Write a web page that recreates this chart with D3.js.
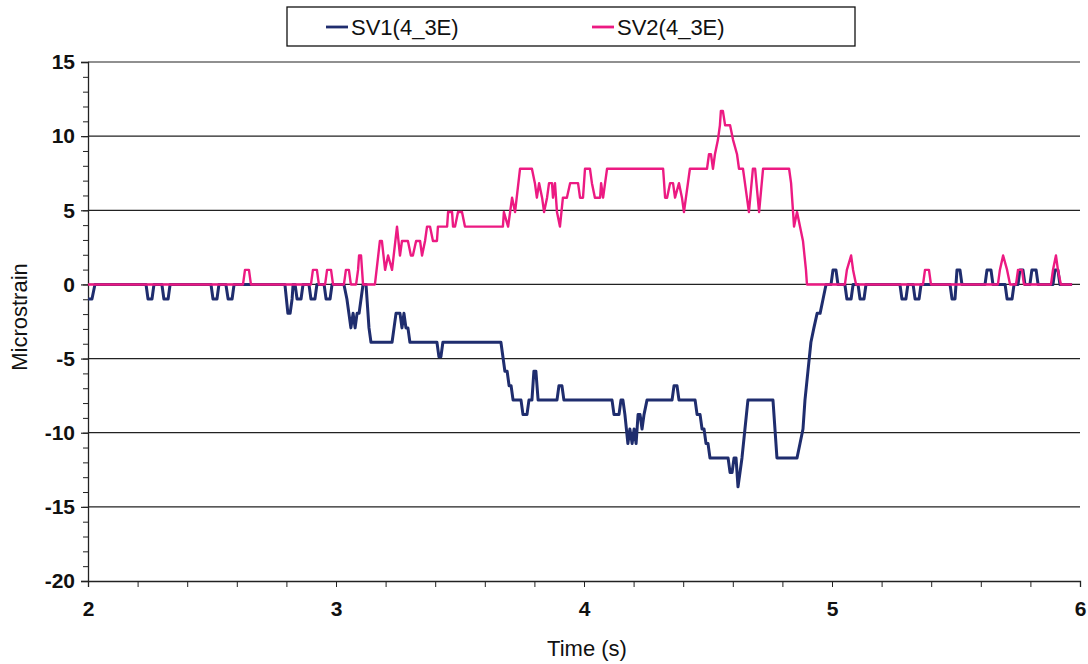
<!DOCTYPE html>
<html>
<head>
<meta charset="utf-8">
<script src="https://cdn.jsdelivr.net/npm/d3@7"></script>
<style>
  body { margin: 0; background: #fff; }
  svg text { font-family: "Liberation Sans", Arial, sans-serif; fill: #111; }
</style>
</head>
<body>
<svg id="chart" width="1088" height="664"></svg>
<script>
// series names / colours
var seriesNames = ["SV1(4_3E)", "SV2(4_3E)"];
var seriesColors = ["#1f2d6e", "#ec1a82"];

// axis ticks
var xTicks = [2, 3, 4, 5, 6];
var yTicks = [15, 10, 5, 0, -5, -10, -15, -20];

// SV1 breakpoints [time s, microstrain]
var sv1 = [
  [2.000, -0.98], [2.016, -0.98], [2.028, 0], [2.234, 0], [2.242, -0.98], [2.258, -0.98], [2.266, 0],
  [2.298, 0], [2.306, -0.98], [2.323, -0.98], [2.331, 0], [2.496, 0], [2.504, -0.98], [2.520, -0.98], [2.528, 0],
  [2.556, 0], [2.565, -0.98], [2.581, -0.98], [2.589, 0], [2.794, 0], [2.806, -1.95], [2.815, -1.95], [2.823, -0.98], [2.827, 0],
  [2.835, 0], [2.843, -0.98], [2.859, -0.98], [2.867, 0], [2.891, 0], [2.899, -0.98], [2.915, -0.98], [2.923, 0],
  [2.952, 0], [2.960, -0.98], [2.976, -0.98], [2.984, 0], [3.032, 0], [3.044, -0.98], [3.052, -1.95], [3.060, -2.93],
  [3.069, -1.95], [3.077, -2.93], [3.085, -1.95], [3.093, -1.95], [3.101, -0.98], [3.109, 0], [3.121, 0], [3.133, -2.93],
  [3.141, -3.9], [3.226, -3.9], [3.234, -2.93], [3.242, -1.95], [3.258, -1.95], [3.266, -2.93], [3.274, -1.95], [3.282, -2.93],
  [3.290, -2.93], [3.298, -3.9], [3.407, -3.9], [3.415, -4.88], [3.423, -4.88], [3.431, -3.9], [3.665, -3.9], [3.673, -4.88],
  [3.681, -5.85], [3.690, -5.85], [3.698, -6.83], [3.706, -6.83], [3.714, -7.8], [3.746, -7.8], [3.754, -8.78], [3.770, -8.78],
  [3.778, -7.8], [3.790, -7.8], [3.798, -5.85], [3.806, -5.85], [3.815, -7.8], [3.891, -7.8], [3.899, -6.83], [3.911, -6.83],
  [3.919, -7.8], [4.113, -7.8], [4.121, -8.78], [4.141, -8.78], [4.149, -7.8], [4.157, -7.8], [4.165, -8.78], [4.177, -10.73],
  [4.185, -9.75], [4.194, -10.73], [4.202, -9.75], [4.210, -10.73], [4.218, -8.78], [4.226, -8.78], [4.234, -9.75], [4.242, -8.78],
  [4.254, -7.8], [4.355, -7.8], [4.363, -6.83], [4.375, -6.83], [4.383, -7.8], [4.448, -7.8], [4.456, -8.78], [4.468, -8.78],
  [4.476, -9.75], [4.484, -9.75], [4.492, -10.73], [4.500, -10.73], [4.508, -11.7], [4.581, -11.7], [4.589, -12.68], [4.597, -12.68],
  [4.605, -11.7], [4.613, -11.7], [4.621, -13.65], [4.629, -12.68], [4.637, -11.7], [4.649, -9.75], [4.661, -7.8], [4.762, -7.8],
  [4.778, -11.7], [4.859, -11.7], [4.871, -10.73], [4.883, -9.75], [4.891, -7.8], [4.903, -5.85], [4.915, -3.9], [4.927, -2.93],
  [4.940, -1.95], [4.952, -1.95], [4.964, -0.98], [4.976, 0], [4.996, 0], [5.004, 0.98], [5.016, 0.98], [5.024, 0],
  [5.052, 0], [5.060, -0.98], [5.077, -0.98], [5.085, 0], [5.105, 0], [5.113, -0.98], [5.129, -0.98], [5.137, 0],
  [5.274, 0], [5.282, -0.98], [5.298, -0.98], [5.306, 0], [5.327, 0], [5.335, -0.98], [5.351, -0.98], [5.359, 0],
  [5.476, 0], [5.484, -0.98], [5.496, -0.98], [5.500, 0], [5.504, 0.98], [5.516, 0.98], [5.524, 0],
  [5.617, 0], [5.625, 0.98], [5.641, 0.98], [5.649, 0], [5.698, 0], [5.706, -0.98], [5.726, -0.98], [5.734, 0],
  [5.750, 0], [5.758, 0.98], [5.770, 0.98], [5.778, 0], [5.798, 0], [5.806, 0.98], [5.823, 0.98], [5.831, 0],
  [5.891, 0], [5.899, 0.98], [5.911, 0.98], [5.919, 0], [5.968, 0]
];

// SV2 breakpoints [time s, microstrain]
var sv2 = [
  [2.000, 0], [2.625, 0], [2.633, 0.98], [2.649, 0.98], [2.657, 0], [2.899, 0], [2.907, 0.98], [2.923, 0.98], [2.931, 0],
  [2.956, 0], [2.964, 0.98], [2.980, 0.98], [2.988, 0], [3.032, 0], [3.040, 0.98], [3.052, 0.98], [3.060, 0],
  [3.081, 0], [3.089, 0.98], [3.093, 1.95], [3.101, 1.95], [3.109, 0], [3.157, 0], [3.177, 2.93], [3.185, 2.93],
  [3.198, 0.98], [3.210, 1.95], [3.226, 0.98], [3.246, 3.9], [3.258, 1.95], [3.266, 2.93], [3.290, 2.93], [3.302, 1.95],
  [3.310, 1.95], [3.323, 2.93], [3.339, 2.93], [3.347, 1.95], [3.359, 2.93], [3.367, 3.9], [3.379, 3.9], [3.391, 2.93],
  [3.407, 2.93], [3.411, 3.9], [3.448, 3.9], [3.452, 4.88], [3.468, 4.88], [3.472, 3.9], [3.480, 3.9], [3.492, 4.88],
  [3.508, 4.88], [3.520, 3.9], [3.673, 3.9], [3.677, 4.88], [3.694, 3.9], [3.710, 5.85], [3.722, 4.88], [3.742, 7.8],
  [3.790, 7.8], [3.802, 6.83], [3.810, 5.85], [3.819, 6.83], [3.831, 5.85], [3.839, 4.88], [3.851, 5.85], [3.859, 6.83],
  [3.871, 6.83], [3.875, 5.85], [3.883, 6.83], [3.891, 4.88], [3.903, 3.9], [3.915, 5.85], [3.931, 5.85], [3.944, 6.83],
  [3.976, 6.83], [3.984, 5.85], [3.996, 5.85], [4.004, 7.8], [4.024, 7.8], [4.032, 6.83], [4.044, 5.85], [4.065, 5.85],
  [4.069, 6.83], [4.077, 5.85], [4.085, 6.83], [4.093, 7.8], [4.319, 7.8], [4.327, 5.85], [4.335, 5.85], [4.347, 6.83],
  [4.359, 6.83], [4.367, 5.85], [4.383, 6.83], [4.395, 5.85], [4.403, 4.88], [4.427, 7.8], [4.496, 7.8], [4.504, 8.78],
  [4.512, 8.78], [4.520, 7.8], [4.528, 8.78], [4.540, 9.75], [4.548, 10.73], [4.552, 11.7], [4.560, 11.7], [4.569, 10.73],
  [4.589, 10.73], [4.601, 9.75], [4.617, 8.78], [4.625, 7.8], [4.641, 7.8], [4.649, 6.83], [4.657, 5.85], [4.665, 4.88],
  [4.681, 7.8], [4.690, 7.8], [4.706, 4.88], [4.722, 7.8], [4.827, 7.8], [4.835, 6.83], [4.843, 4.88], [4.847, 3.9],
  [4.859, 4.88], [4.871, 3.9], [4.883, 2.93], [4.895, 0.98], [4.899, 0], [5.052, 0], [5.060, 0.98], [5.077, 1.95],
  [5.085, 0.98], [5.097, 0], [5.367, 0], [5.375, 0.98], [5.391, 0.98], [5.399, 0], [5.669, 0], [5.677, 0.98],
  [5.690, 1.95], [5.706, 0.98], [5.718, 0], [5.742, 0], [5.750, 0.98], [5.766, 0.98], [5.774, 0], [5.883, 0],
  [5.891, 0.98], [5.903, 1.95], [5.911, 0.98], [5.923, 0], [5.968, 0]
];

var seriesData = [sv1, sv2];

var svg = d3.select("#chart");

var x = d3.scaleLinear().domain([2, 6]).range([88, 1080]);
var y = d3.scaleLinear().domain([-20, 15]).range([581, 62]);

// horizontal gridlines
svg.append("g").selectAll("line")
  .data(yTicks.filter(function (d) { return d !== -20; }))
  .enter().append("line")
  .attr("x1", x(2)).attr("x2", x(6))
  .attr("y1", function (d) { return y(d); })
  .attr("y2", function (d) { return y(d); })
  .attr("stroke", "#222")
  .attr("stroke-width", 1.2);

// plain hyphen minus like the original
function fmt(d) { return String(d); }

// y axis: major ticks w/ labels, minor every 1
var yAxis = d3.axisLeft(y).tickValues(yTicks).tickSize(7).tickPadding(6).tickFormat(fmt);
var yMinor = d3.axisLeft(y).tickValues(d3.range(-20, 16, 1)).tickSize(5).tickFormat("");
svg.append("g").attr("transform", "translate(" + x(2) + ",0)").call(yMinor)
  .call(function (g) { g.select(".domain").remove(); })
  .selectAll("line").attr("stroke", "#222");
var gy = svg.append("g").attr("transform", "translate(" + x(2) + ",0)").call(yAxis);
gy.select(".domain").attr("stroke", "#222").attr("stroke-width", 1.3);
gy.selectAll("line").attr("stroke", "#222").attr("stroke-width", 1.2);
gy.selectAll("text").style("font-size", "21px").style("font-weight", "bold").attr("fill", "#111");

// x axis: major ticks w/ labels, minor every 0.2
var xAxis = d3.axisBottom(x).tickValues(xTicks).tickSize(6).tickPadding(14).tickFormat(fmt);
var xMinor = d3.axisBottom(x).tickValues(d3.range(2, 6.01, 0.2)).tickSize(6).tickFormat("");
svg.append("g").attr("transform", "translate(0," + y(-20) + ")").call(xMinor)
  .call(function (g) { g.select(".domain").remove(); })
  .selectAll("line").attr("stroke", "#222");
var gx = svg.append("g").attr("transform", "translate(0," + y(-20) + ")").call(xAxis);
gx.select(".domain").attr("stroke", "#222").attr("stroke-width", 1.3);
gx.selectAll("line").attr("stroke", "#222");
gx.selectAll("text").style("font-size", "21px").style("font-weight", "bold").attr("fill", "#111");

// axis titles
svg.append("text")
  .attr("x", 587).attr("y", 656)
  .attr("text-anchor", "middle")
  .style("font-size", "22px")
  .text("Time (s)");

svg.append("text")
  .attr("transform", "translate(27,317) rotate(-90)")
  .attr("text-anchor", "middle")
  .style("font-size", "22px")
  .text("Microstrain");

// the two traces
var line = d3.line()
  .x(function (d) { return x(d[0]); })
  .y(function (d) { return y(d[1]); });

svg.append("g").selectAll("path")
  .data(seriesData)
  .enter().append("path")
  .attr("fill", "none")
  .attr("stroke", function (d, i) { return seriesColors[i]; })
  .attr("stroke-width", function (d, i) { return i === 0 ? 3 : 2.4; })
  .attr("stroke-linejoin", "round")
  .attr("d", line);

// legend
var legend = svg.append("g");
legend.append("rect")
  .attr("x", 287).attr("y", 7).attr("width", 568).attr("height", 39)
  .attr("fill", "#fff").attr("stroke", "#111").attr("stroke-width", 1.3);

var legendX = [326, 592];
var items = legend.selectAll("g.item")
  .data(seriesNames)
  .enter().append("g")
  .attr("class", "item")
  .attr("transform", function (d, i) { return "translate(" + legendX[i] + ",27)"; });
items.append("line")
  .attr("x1", 0).attr("x2", 22).attr("y1", 0).attr("y2", 0)
  .attr("stroke", function (d, i) { return seriesColors[i]; })
  .attr("stroke-width", 2.8);
items.append("text")
  .attr("x", 25).attr("y", 8)
  .style("font-size", "22px")
  .text(function (d) { return d; });
</script>
</body>
</html>
